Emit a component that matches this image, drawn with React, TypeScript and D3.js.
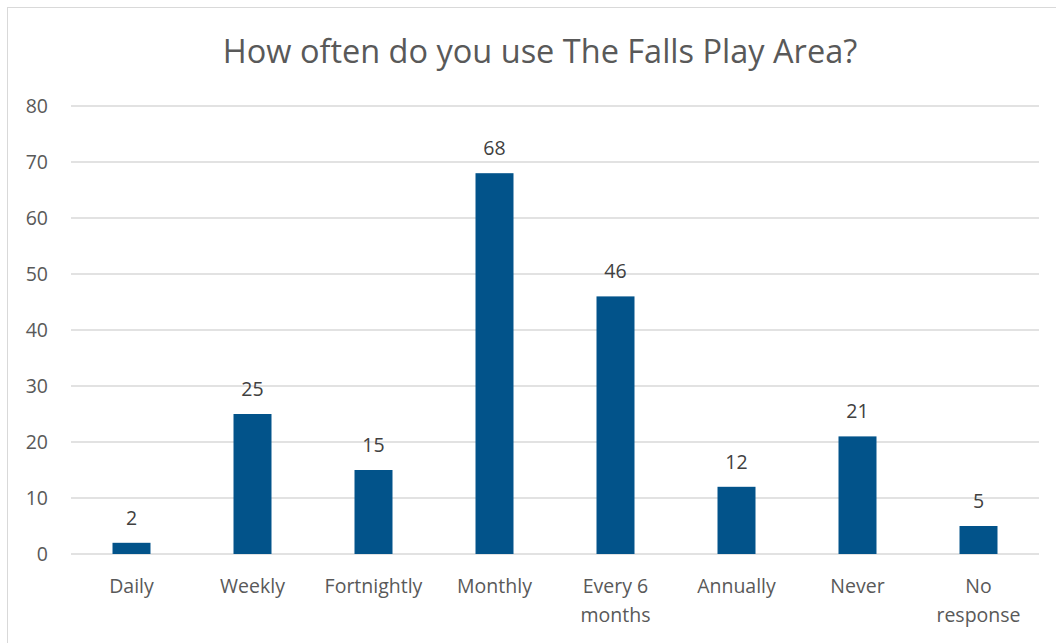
import React from "react";
import * as d3 from "d3";

const categories: string[][] = [
  ["Daily"],
  ["Weekly"],
  ["Fortnightly"],
  ["Monthly"],
  ["Every 6", "months"],
  ["Annually"],
  ["Never"],
  ["No", "response"],
];
const values: number[] = [2, 25, 15, 68, 46, 12, 21, 5];
const yTicks: number[] = [0, 10, 20, 30, 40, 50, 60, 70, 80];
const title = "How often do you use The Falls Play Area?";

const W = 1056;
const H = 643;
const FONT = "'Open Sans', sans-serif";

export default function App() {
  const keys = categories.map((c) => c.join(" "));
  const x = d3.scaleBand<string>().domain(keys).range([71, 1039]).paddingInner(0.686).paddingOuter(0.343);
  const y = d3.scaleLinear().domain([0, 80]).range([554, 106]);

  return (
    <svg
      width={W}
      height={H}
      style={{ position: "absolute", left: 0, top: 0, background: "#fff" }}
      fontFamily={FONT}
    >
      <rect x={7.5} y={7.5} width={1200} height={800} fill="#fff" stroke="#d9d9d9" strokeWidth={1} />
      <text x={540} y={63} textAnchor="middle" fontSize={32.5} fill="#595959">
        {title}
      </text>
      {yTicks.map((t) => (
        <g key={t}>
          <line x1={71} x2={1039} y1={y(t)} y2={y(t)} stroke="#d9d9d9" strokeWidth={1.3} />
          <text x={48} y={y(t)} dy="0.35em" textAnchor="end" fontSize={19.5} fill="#595959">
            {t}
          </text>
        </g>
      ))}
      {values.map((v, i) => {
        const k = keys[i];
        const bx = x(k)!;
        const bw = x.bandwidth();
        const cx = bx + bw / 2;
        return (
          <g key={k}>
            <rect x={bx} y={y(v)} width={bw} height={y(0) - y(v)} fill="#02538a" />
            <text x={cx} y={y(v) - 18} textAnchor="middle" fontSize={19.5} fill="#404040">
              {v}
            </text>
            {categories[i].map((line, j) => (
              <text key={j} x={cx} y={593 + j * 28.5} textAnchor="middle" fontSize={19.5} fill="#595959">
                {line}
              </text>
            ))}
          </g>
        );
      })}
    </svg>
  );
}
